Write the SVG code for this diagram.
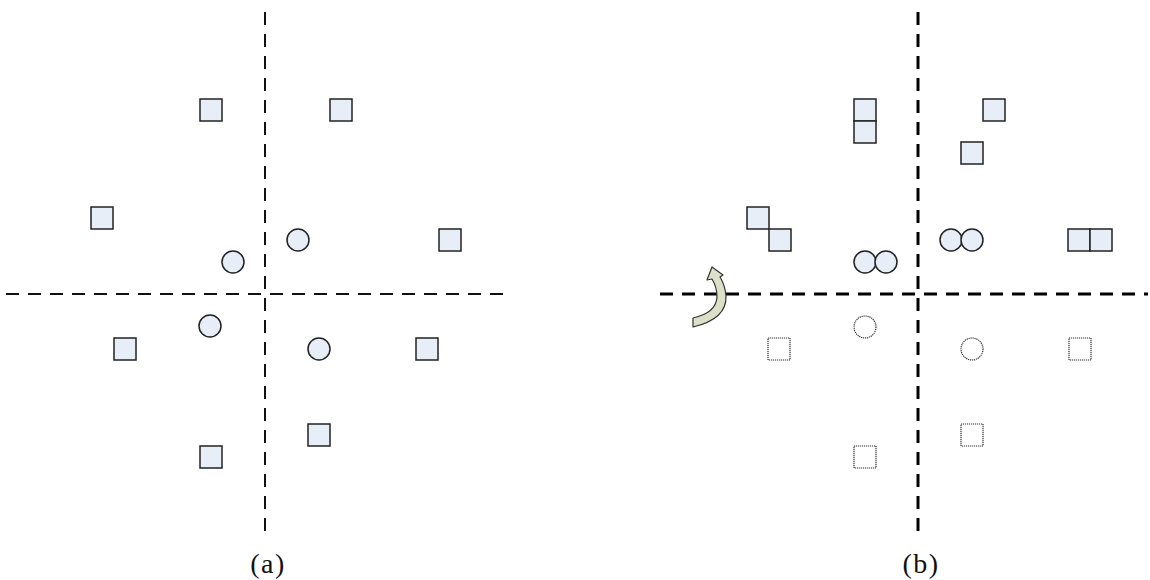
<svg xmlns="http://www.w3.org/2000/svg" width="1150" height="580" viewBox="0 0 1150 580">
<style>
.axA{stroke:#111;stroke-width:2;stroke-dasharray:13 9;fill:none}
.axB{stroke:#000;stroke-width:3;stroke-dasharray:13 9;fill:none}
.sq{fill:#e8eef8;stroke:#222;stroke-width:1.5}
.ci{fill:#e8eef8;stroke:#222;stroke-width:1.5}
.dt{fill:#fff;stroke:#333;stroke-width:1.2;stroke-dasharray:1.2 0.8}
.lbl{font-family:"Liberation Serif",serif;font-size:28px;fill:#111;letter-spacing:1.5px}
.arr{fill:#dde0c8;stroke:#333;stroke-width:1.2;stroke-linejoin:round}
</style>
<rect width="1150" height="580" fill="#fff"/>
<g id="axes">
<line class="axA" x1="265" y1="12" x2="265" y2="532"/>
<line class="axA" x1="6" y1="294" x2="505" y2="294"/>
<line class="axB" x1="918" y1="12" x2="918" y2="532"/>
<line class="axB" x1="660" y1="294" x2="1148" y2="294"/>
</g>
<g id="panel-a">
<g id="a-s1"><rect class="sq" x="200" y="99" width="22" height="22"/></g>
<g id="a-s2"><rect class="sq" x="330" y="99" width="22" height="22"/></g>
<g id="a-s3"><rect class="sq" x="91" y="207" width="22" height="22"/></g>
<g id="a-s4"><rect class="sq" x="439" y="229" width="22" height="22"/></g>
<g id="a-s5"><rect class="sq" x="114" y="338" width="22" height="22"/></g>
<g id="a-s6"><rect class="sq" x="416" y="338" width="22" height="22"/></g>
<g id="a-s7"><rect class="sq" x="200" y="446" width="22" height="22"/></g>
<g id="a-s8"><rect class="sq" x="308" y="424" width="22" height="22"/></g>
<g id="a-c1"><circle class="ci" cx="233" cy="262" r="11"/></g>
<g id="a-c2"><circle class="ci" cx="298" cy="240" r="11"/></g>
<g id="a-c3"><circle class="ci" cx="210" cy="326" r="11"/></g>
<g id="a-c4"><circle class="ci" cx="319" cy="349" r="11"/></g>
</g>
<g id="panel-b">
<g id="b-s1"><rect class="sq" x="854" y="99" width="22" height="22"/><rect class="sq" x="854" y="121" width="22" height="22"/></g>
<g id="b-s2"><rect class="sq" x="983" y="99" width="22" height="22"/></g>
<g id="b-s3"><rect class="sq" x="961" y="142" width="22" height="22"/></g>
<g id="b-s4"><rect class="sq" x="747" y="207" width="22" height="22"/><rect class="sq" x="769" y="229" width="22" height="22"/></g>
<g id="b-s5"><rect class="sq" x="1068" y="229" width="22" height="22"/><rect class="sq" x="1090" y="229" width="22" height="22"/></g>
<g id="b-c1"><circle class="ci" cx="951" cy="240" r="11"/><circle class="ci" cx="972" cy="240" r="11"/></g>
<g id="b-c2"><circle class="ci" cx="865" cy="262" r="11"/><circle class="ci" cx="886" cy="262" r="11"/></g>
<g id="b-d1"><rect class="dt" x="768" y="338" width="22" height="22"/></g>
<g id="b-d2"><circle class="dt" cx="865" cy="327" r="11"/></g>
<g id="b-d3"><circle class="dt" cx="972" cy="349" r="11"/></g>
<g id="b-d4"><rect class="dt" x="1069" y="338" width="22" height="22"/></g>
<g id="b-d5"><rect class="dt" x="961" y="424" width="22" height="22"/></g>
<g id="b-d6"><rect class="dt" x="854" y="446" width="22" height="22"/></g>
<g id="b-arrow"><path class="arr" d="M693,327 Q727,319 726,296 Q725,285 720,277 L723,275 L712,267 L707,280 L712,279 Q717,287 717,297 Q716,313 693,318 Z"/></g>
</g>
<g id="labels">
<text class="lbl" x="268" y="573" text-anchor="middle">(a)</text>
<text class="lbl" x="921" y="573" text-anchor="middle">(b)</text>
</g>
</svg>
